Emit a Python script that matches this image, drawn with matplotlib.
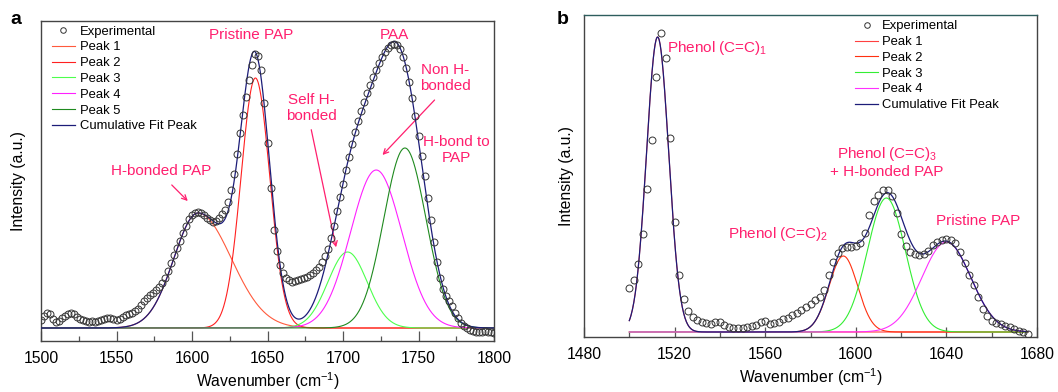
import numpy as np
import matplotlib.pyplot as plt

plt.rcParams['font.family'] = ['Liberation Sans', 'DejaVu Sans']
plt.rcParams['mathtext.fontset'] = 'custom'
plt.rcParams['mathtext.rm'] = 'Liberation Sans'
plt.rcParams['mathtext.default'] = 'regular'

PINK = '#ff1f6e'

# ---- panel a: experimental spectrum (every 2 cm-1) ----
wn_a = np.arange(1500, 1801, 2)
exp_a = [8, 12, 15, 14, 9, 6, 7, 10, 12, 14, 15, 14, 11, 9, 8, 7, 6, 7, 6, 7,
         8, 9, 10, 10, 9, 8, 9, 11, 13, 14, 15, 17, 19, 23, 27, 30, 33, 35, 38, 41,
         45, 50, 57, 65, 73, 80, 87, 95, 102, 109, 113, 115, 116, 115, 113, 110, 108, 106, 107, 110,
         114, 118, 126, 138, 154, 174, 195, 213, 231, 248, 263, 274, 272, 258, 225, 185, 140, 98, 77, 63,
         55, 50, 48, 46, 47, 48, 49, 50, 51, 53, 55, 58, 61, 66, 72, 79, 90, 102, 117, 131,
         144, 158, 171, 184, 196, 207, 217, 226, 235, 243, 251, 258, 265, 271, 276, 280, 283, 284, 283, 279,
         271, 260, 246, 230, 212, 192, 172, 152, 130, 108, 86, 66, 50, 39, 32, 27, 22, 15, 10, 5,
         2, 0, -2, -3, -4, -4, -4, -3, -4, -4, -5]

# fitted peaks (centre, height, left / right width)
peak_a_center = [1604, 1642, 1703, 1722, 1741]
peak_a_height = [115, 250, 76, 158, 180]
peak_a_wleft = [16, 9.5, 13, 17, 14]
peak_a_wright = [22, 9.5, 13, 17, 14]
peak_a_colors = ['#ff5a3c', '#ff2020', '#4dff4d', '#ff20ff', '#1f8a1f']
peak_a_labels = ['Peak 1', 'Peak 2', 'Peak 3', 'Peak 4', 'Peak 5']

# ---- panel b ----
wn_b = np.arange(1500, 1677, 2)
exp_b = [44, 52, 68, 98, 143, 192, 255, 299, 274, 194, 110, 57, 33, 21, 15, 12, 10, 9, 8, 10,
         10, 7, 5, 4, 4, 4, 5, 6, 7, 10, 11, 8, 9, 10, 13, 14, 17, 19, 22, 25,
         28, 32, 35, 42, 57, 70, 79, 84, 85, 85, 86, 89, 99, 117, 131, 137, 142, 142, 136, 119,
         98, 86, 80, 78, 77, 78, 81, 87, 90, 92, 93, 92, 89, 80, 69, 57, 47, 35, 23, 16,
         11, 9, 8, 6, 5, 3, 1, 0, -2]

peak_b_center = [1512.5, 1594.5, 1613.5, 1640]
peak_b_height = [295, 76, 134, 90]
peak_b_width = [4.9, 6.3, 8.4, 10.8]
peak_b_colors = ['#ff4040', '#ff3010', '#33ee33', '#ff30ff']
peak_b_labels = ['Peak 1', 'Peak 2', 'Peak 3', 'Peak 4']

FIT = '#1c1c78'


def gauss(x, c, h, wl, wr):
    w = np.where(x < c, wl, wr)
    return h * np.exp(-(x - c) ** 2 / (2 * w ** 2))


def style_axes(ax, xlim, ylim, major, minor):
    ax.set_xlim(*xlim)
    ax.set_ylim(*ylim)
    ax.set_xticks(np.arange(xlim[0], xlim[1] + 1, major))
    ax.set_xticks(np.arange(xlim[0], xlim[1] + 1, minor), minor=True)
    ax.set_yticks([])
    ax.tick_params(axis='x', which='major', direction='in', length=7, width=0.9,
                   color='#555555', labelsize=11.3, pad=7)
    ax.tick_params(axis='x', which='minor', direction='in', length=3.5, width=0.9,
                   color='#555555')
    for s in ax.spines.values():
        s.set_color('#444444')
        s.set_linewidth(1)
    ax.set_xlabel('Wavenumber (cm$^{-1}$)', fontsize=11.3, labelpad=3)


fig = plt.figure(figsize=(10.58, 3.92), dpi=100)

# ================= panel a =================
ax = fig.add_axes([41 / 1058, 1 - 341 / 392, 453 / 1058, 320 / 392])
xf = np.linspace(1500, 1800, 1201)
total = np.zeros_like(xf)
handles = []
ln, = ax.plot(wn_a, exp_a, 'o', mfc='none', mec='#333333', ms=5, mew=0.7,
              label='Experimental', zorder=5)
handles.append(ln)
for c, h, wl, wr, col, lab in zip(peak_a_center, peak_a_height, peak_a_wleft,
                                   peak_a_wright, peak_a_colors, peak_a_labels):
    y = gauss(xf, c, h, wl, wr)
    total += y
    ln, = ax.plot(xf, y, color=col, lw=0.8, label=lab)
    handles.append(ln)
ln, = ax.plot(xf, total, color=FIT, lw=0.9, label='Cumulative Fit Peak', zorder=4)
handles.append(ln)

style_axes(ax, (1500, 1800), (-13, 307), 50, 25)
ax.set_ylabel('Intensity (a.u.)', fontsize=11.3, va='center')
ax.yaxis.set_label_coords(-0.049, 0.5)
ax.legend(handles=handles, loc='upper left', bbox_to_anchor=(0.024, 0.986),
          frameon=False, fontsize=9.4, borderpad=0, borderaxespad=0,
          handlelength=1.75, handletextpad=0.4, labelspacing=0.28,
          numpoints=1, markerscale=0.8)

ax.text(1638.9, 293, 'Pristine PAP', color=PINK, fontsize=11, ha='center', va='center')
ax.text(1734.1, 293, 'PAA', color=PINK, fontsize=11, ha='center', va='center')
arrow = dict(arrowstyle='->', color=PINK, lw=0.9, mutation_scale=9)
ax.text(1579.8, 157, 'H-bonded PAP', color=PINK, fontsize=11, ha='center', va='center')
ax.annotate('', xy=(1598.5, 125), xytext=(1585.3, 145), arrowprops=arrow)
ax.text(1679.2, 220, 'Self H-\nbonded', color=PINK, fontsize=11, ha='center', va='center',
        linespacing=1.15)
ax.annotate('', xy=(1695.8, 78), xytext=(1678.6, 201), arrowprops=arrow)
ax.text(1767.9, 250, 'Non H-\nbonded', color=PINK, fontsize=11, ha='center', va='center',
        linespacing=1.15)
ax.annotate('', xy=(1724.9, 171), xytext=(1761.9, 230), arrowprops=arrow)
ax.text(1775.1, 178, 'H-bond to\nPAP', color=PINK, fontsize=11, ha='center', va='center',
        linespacing=1.15)

# ================= panel b =================
bx = fig.add_axes([584 / 1058, 1 - 337 / 392, 453 / 1058, 322 / 392])
xg = np.linspace(1500, 1676, 881)
total = np.zeros_like(xg)
handles = []
ln, = bx.plot(wn_b, exp_b, 'o', mfc='none', mec='#333333', ms=5, mew=0.7,
              label='Experimental', zorder=5)
handles.append(ln)
for c, h, w, col, lab in zip(peak_b_center, peak_b_height, peak_b_width,
                             peak_b_colors, peak_b_labels):
    y = gauss(xg, c, h, w, w)
    total += y
    ln, = bx.plot(xg, y, color=col, lw=0.8, label=lab)
    handles.append(ln)
ln, = bx.plot(xg, total, color=FIT, lw=0.9, label='Cumulative Fit Peak', zorder=4)
handles.append(ln)

style_axes(bx, (1480, 1680), (-5, 317), 40, 20)
bx.spines['top'].set_color('#2e5e5e')
bx.set_ylabel('Intensity (a.u.)', fontsize=11.3, va='center')
bx.yaxis.set_label_coords(-0.038, 0.5)
bx.legend(handles=handles, loc='upper left', bbox_to_anchor=(0.598, 0.984),
          frameon=False, fontsize=9.4, borderpad=0, borderaxespad=0,
          handlelength=1.8, handletextpad=0.3, labelspacing=0.28,
          numpoints=1, markerscale=0.8)

bx.text(1516.6, 284, 'Phenol (C=C)$_1$', color=PINK, fontsize=11, ha='left', va='center')
bx.text(1565.7, 98, 'Phenol (C=C)$_2$', color=PINK, fontsize=11, ha='center', va='center')
bx.text(1613.8, 170, 'Phenol (C=C)$_3$\n+ H-bonded PAP', color=PINK, fontsize=11,
        ha='center', va='center', linespacing=1.15)
bx.text(1654, 111, 'Pristine PAP', color=PINK, fontsize=11, ha='center', va='center')

fig.text(16 / 1058, 1 - 19 / 392, 'a', fontsize=14, fontweight='bold', ha='center', va='center')
fig.text(563 / 1058, 1 - 19 / 392, 'b', fontsize=14, fontweight='bold', ha='center', va='center')

fig.savefig('out.png', dpi=100)
